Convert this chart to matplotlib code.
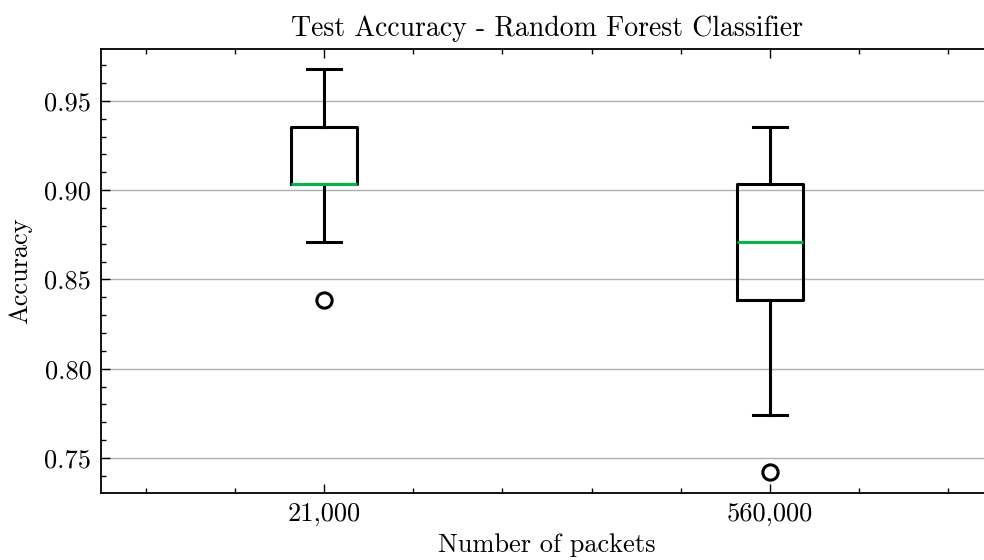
import matplotlib
matplotlib.use("Agg")
import matplotlib.pyplot as plt
from matplotlib.ticker import AutoMinorLocator, MultipleLocator, FormatStrFormatter

plt.rcParams.update({
    "font.family": "serif",
    "font.serif": ["cmr10"],
    "mathtext.fontset": "cm",
    "axes.formatter.use_mathtext": True,
    "axes.unicode_minus": False,
    "font.size": 19,
})

# Test accuracy summaries per dataset size (31 test samples)
categories = ["21,000", "560,000"]
q1 = [28 / 31, 26 / 31]
medians = [28 / 31, 27 / 31]
q3 = [29 / 31, 28 / 31]
whisker_low = [27 / 31, 24 / 31]
whisker_high = [30 / 31, 29 / 31]
outliers = [[26 / 31], [23 / 31]]

stats = [
    dict(label=c, q1=a, med=m, q3=b, whislo=lo, whishi=hi, fliers=f)
    for c, a, m, b, lo, hi, f in zip(categories, q1, medians, q3,
                                     whisker_low, whisker_high, outliers)
]

fig = plt.figure(figsize=(9.84, 5.6), dpi=100)
# axes run slightly past the right edge of the canvas
ax = fig.add_axes([101 / 984, 67.5 / 560, 892 / 984, 443.5 / 560])

lw = 2.2
ax.bxp(
    stats,
    positions=[1, 2],
    widths=0.15,
    boxprops=dict(color="black", linewidth=lw),
    whiskerprops=dict(color="black", linewidth=lw),
    capprops=dict(color="black", linewidth=lw),
    medianprops=dict(color="#00B945", linewidth=lw),
    flierprops=dict(marker="o", markerfacecolor="none", markeredgecolor="black",
                    markersize=11, markeredgewidth=2.2),
    zorder=3,
)

# data range plus 5% margin
lo = min(min(f) for f in outliers)
hi = max(whisker_high)
pad = 0.05 * (hi - lo)
ax.set_xlim(0.5, 2.5)
ax.set_ylim(lo - pad, hi + pad)

ax.yaxis.set_major_locator(MultipleLocator(0.05))
ax.yaxis.set_minor_locator(AutoMinorLocator(5))
ax.xaxis.set_minor_locator(AutoMinorLocator(5))
ax.yaxis.set_major_formatter(FormatStrFormatter("%.2f"))

ax.tick_params(which="both", direction="in", top=True, right=True, width=1.0)
ax.tick_params(which="major", length=6.5, pad=7)
ax.tick_params(which="minor", length=3.5)
for s in ax.spines.values():
    s.set_linewidth(1.3)

ax.yaxis.grid(True, color="#b0b0b0", linewidth=1.0, zorder=0)
ax.set_axisbelow(True)

ax.set_title("Test Accuracy - Random Forest Classifier", fontsize=20, pad=9)
ax.set_xlabel("Number of packets", labelpad=5)
ax.set_ylabel("Accuracy", labelpad=9)

fig.savefig("out.png", dpi=100)
